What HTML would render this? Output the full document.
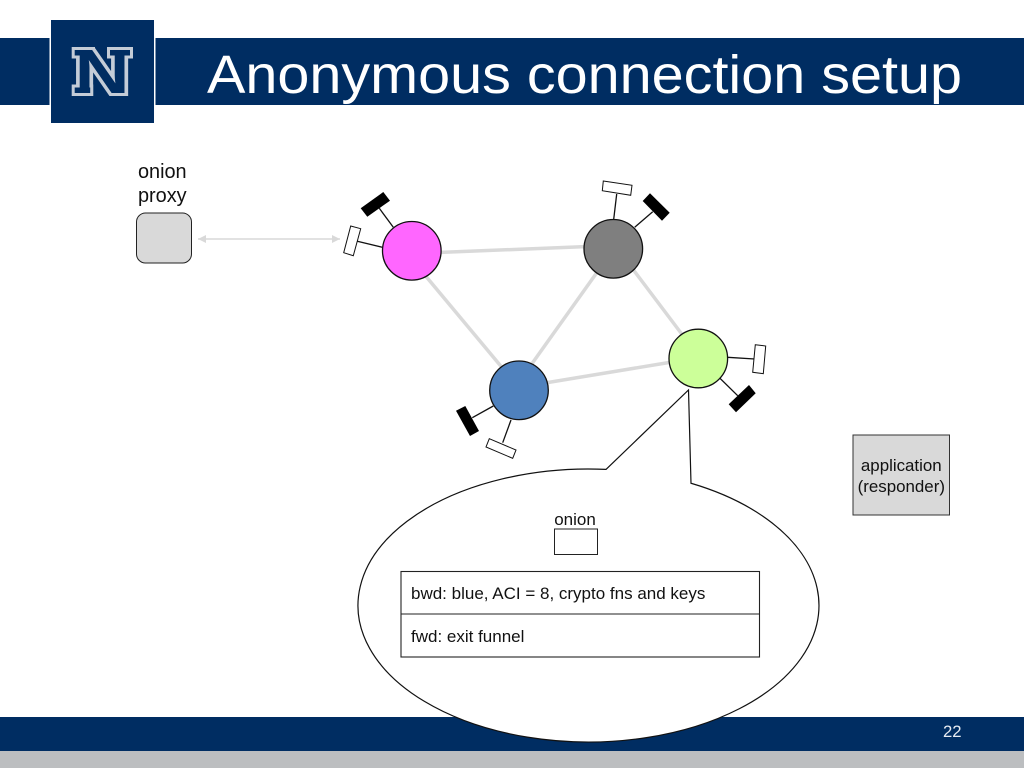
<!DOCTYPE html>
<html>
<head>
<meta charset="utf-8">
<style>
html,body{margin:0;padding:0;background:#fff;width:1024px;height:768px;overflow:hidden}
svg{display:block}
text{font-family:"Liberation Sans",sans-serif;fill:#111}
</style>
</head>
<body>
<svg width="1024" height="768" viewBox="0 0 1024 768" xmlns="http://www.w3.org/2000/svg">
<defs>
<marker id="a1" markerWidth="9" markerHeight="8" refX="8" refY="4" orient="auto-start-reverse" markerUnits="userSpaceOnUse">
<path d="M0 0L8 4L0 8Z" fill="#d9d9d9"/>
</marker>
</defs>

<!-- header -->
<rect x="0" y="38" width="49.5" height="67" fill="#002d62"/>
<rect x="155.5" y="38" width="868.5" height="67" fill="#002d62"/>
<rect x="51" y="20" width="103" height="103" fill="#002d62"/>

<!-- logo: gray layer -->
<g fill="#c4ccd7">
<rect x="71.7" y="47" width="23.3" height="11.5"/>
<rect x="107" y="47" width="26" height="11.5"/>
<rect x="71.7" y="84.5" width="21.5" height="11.5"/>
</g>
<text x="74.6" y="93" font-size="62.5" textLength="55" lengthAdjust="spacingAndGlyphs" style="font-weight:bold;fill:#c4ccd7;stroke:#c4ccd7;stroke-width:6;stroke-linejoin:miter">N</text>
<!-- logo: navy layer -->
<g fill="#002d62">
<rect x="74.7" y="50" width="17.3" height="5.5"/>
<rect x="110" y="50" width="20" height="5.5"/>
<rect x="74.7" y="87.5" width="15.5" height="5.5"/>
</g>
<text x="74.6" y="93" font-size="62.5" textLength="55" lengthAdjust="spacingAndGlyphs" style="font-weight:bold;fill:#002d62">N</text>

<text x="207" y="93" font-size="54" textLength="755" lengthAdjust="spacingAndGlyphs" style="fill:#fff">Anonymous connection setup</text>

<!-- footer -->
<rect x="0" y="717" width="1024" height="34" fill="#002d62"/>
<rect x="0" y="751" width="1024" height="17" fill="#bcbec0"/>
<text x="943" y="737" font-size="16.7" style="fill:#e6ebf2">22</text>

<!-- links -->
<g stroke="#d9d9d9" stroke-width="3.5" fill="none">
<line x1="438" y1="252.5" x2="588" y2="246.5"/>
<line x1="424" y1="274" x2="502" y2="367.5"/>
<line x1="598" y1="271" x2="531" y2="365"/>
<line x1="632" y1="268" x2="684" y2="337"/>
<line x1="545" y1="383" x2="672" y2="362"/>
</g>

<!-- antenna lines -->
<g stroke="#111" stroke-width="1.3" fill="none">
<line x1="393.3" y1="227.3" x2="379.3" y2="208.3"/>
<line x1="382.3" y1="247.3" x2="357.3" y2="241.3"/>
<line x1="613.7" y1="219.3" x2="616.7" y2="194"/>
<line x1="634.7" y1="227.3" x2="652.7" y2="211.7"/>
<line x1="493.3" y1="406" x2="472.3" y2="417.7"/>
<line x1="511" y1="420" x2="502.7" y2="442.7"/>
<line x1="727.7" y1="357.3" x2="754.7" y2="359"/>
<line x1="720" y1="378.3" x2="737.7" y2="395.7"/>
</g>

<!-- black terminals -->
<g fill="#000">
<polygon points="360.7,208.3 383.3,192 390,200.7 367.3,216.7"/>
<polygon points="650,193.3 669.7,212.7 662,220.7 642.7,201"/>
<polygon points="456,410.7 465.3,406 479,431 470,436"/>
<polygon points="749,385 755.7,393.3 736,412.3 728.7,404.3"/>
</g>

<!-- white terminals -->
<g fill="#fff" stroke="#111" stroke-width="1">
<polygon points="350.7,226 360.7,228.7 353.3,255.7 343.7,252.7"/>
<polygon points="603.3,181 632,185.3 630.7,195.3 602.3,190.7"/>
<polygon points="489.3,438.7 516,450 512.7,458.3 486,447"/>
<polygon points="755.3,344.7 765.7,346 763.3,373.7 752.7,372.3"/>
</g>

<!-- nodes -->
<g stroke="#111" stroke-width="1.3">
<circle cx="411.8" cy="250.8" r="29.3" fill="#ff66ff"/>
<circle cx="613.3" cy="248.8" r="29.3" fill="#7f7f7f"/>
<circle cx="519" cy="390.3" r="29.3" fill="#4f81bd"/>
<circle cx="698.3" cy="358.5" r="29.3" fill="#ccff99"/>
</g>

<!-- onion proxy -->
<text x="162.3" y="178" font-size="19.9" text-anchor="middle">onion</text>
<text x="162.3" y="202" font-size="19.9" text-anchor="middle">proxy</text>
<rect x="136.5" y="213" width="55" height="50" rx="9" ry="9" fill="#d9d9d9" stroke="#222" stroke-width="1"/>
<line x1="198" y1="239" x2="340" y2="239" stroke="#d9d9d9" stroke-width="1.6" marker-start="url(#a1)" marker-end="url(#a1)"/>

<!-- callout -->
<path d="M606 469.39L688.5 390L691 483.24A230.5 136.5 0 1 1 606 469.39Z" fill="#fff" stroke="#111" stroke-width="1.2"/>
<text x="575" y="525" font-size="17" text-anchor="middle">onion</text>
<rect x="554.5" y="529" width="43" height="25.5" fill="#fff" stroke="#222" stroke-width="1"/>
<rect x="401" y="571.5" width="358.5" height="85.5" fill="#fff" stroke="#222" stroke-width="1.1"/>
<line x1="401" y1="614" x2="759.5" y2="614" stroke="#222" stroke-width="1.1"/>
<text x="411" y="599" font-size="17">bwd: blue, ACI = 8, crypto fns and keys</text>
<text x="411" y="642" font-size="17">fwd: exit funnel</text>

<!-- application -->
<rect x="853" y="435" width="96.5" height="80" fill="#d9d9d9" stroke="#333" stroke-width="1"/>
<text x="901.3" y="471" font-size="16.9" text-anchor="middle">application</text>
<text x="901.3" y="492" font-size="16.9" text-anchor="middle">(responder)</text>
</svg>
</body>
</html>
